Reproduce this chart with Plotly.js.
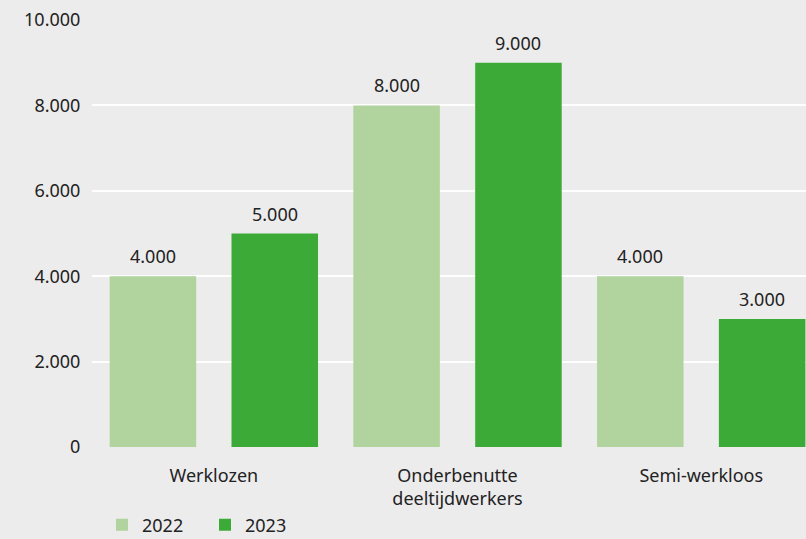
<!DOCTYPE html>
<html>
<head>
<meta charset="utf-8">
<script src="https://cdn.plot.ly/plotly-3.0.1.min.js"></script>
<style>html,body{margin:0;padding:0;background:#ececec;}#chart{width:806px;height:539px;}</style>
</head>
<body>
<div id="chart"></div>
<script>
var categories = ["Werklozen", "Onderbenutte<br>deeltijdwerkers", "Semi-werkloos"];
var values2022 = [4000, 8000, 4000];
var values2023 = [5000, 9000, 3000];
var seriesNames = ["2022", "2023"];
var tickValues = [0, 2000, 4000, 6000, 8000, 10000];

var font = {family: "Noto Sans, Open Sans, sans-serif", size: 18, color: "#222222"};

function fmt(v) {
  return String(v).replace(/\B(?=(\d{3})+(?!\d))/g, ".");
}

var traces = [
  {type: "bar", name: seriesNames[0], x: categories, y: values2022,
   marker: {color: "#b1d39d"}, hoverinfo: "none"},
  {type: "bar", name: seriesNames[1], x: categories, y: values2023,
   marker: {color: "#3caa36"}, hoverinfo: "none"}
];

// value labels above bars (placed at each bar's slot within its group)
var annotations = [];
[values2022, values2023].forEach(function (vals, s) {
  vals.forEach(function (v, i) {
    annotations.push({
      x: i + (s === 0 ? -0.25 : 0.25), y: v, xref: "x", yref: "y",
      text: fmt(v), showarrow: false, yanchor: "bottom", yshift: 6,
      font: font
    });
  });
});

var layout = {
  width: 806, height: 539,
  paper_bgcolor: "#ececec", plot_bgcolor: "#ececec",
  font: font,
  separators: ",.",
  margin: {l: 92, r: 0, t: 20, b: 92, autoexpand: false},
  barmode: "group", bargap: 0, bargroupgap: 0.29,
  showlegend: true,
  legend: {orientation: "h", x: 0.014, xanchor: "left", y: -0.183, yanchor: "middle",
           font: font, bgcolor: "rgba(0,0,0,0)", traceorder: "normal",
           entrywidth: 58, entrywidthmode: "pixels"},
  annotations: annotations,
  xaxis: {type: "category", range: [-0.5, 2.43], autorange: false, showgrid: false,
          zeroline: false, showline: false, ticks: "outside", ticklen: 12,
          tickcolor: "rgba(0,0,0,0)", tickfont: font, fixedrange: true},
  yaxis: {range: [0, 10000], autorange: false, tickvals: tickValues, tickformat: ",.0f",
          showgrid: true, gridcolor: "#ffffff", gridwidth: 2, zeroline: false,
          showline: false, ticks: "outside", ticklen: 7, tickcolor: "rgba(0,0,0,0)",
          tickfont: font, fixedrange: true}
};

Plotly.newPlot("chart", traces, layout, {displayModeBar: false, staticPlot: true});
</script>
</body>
</html>
